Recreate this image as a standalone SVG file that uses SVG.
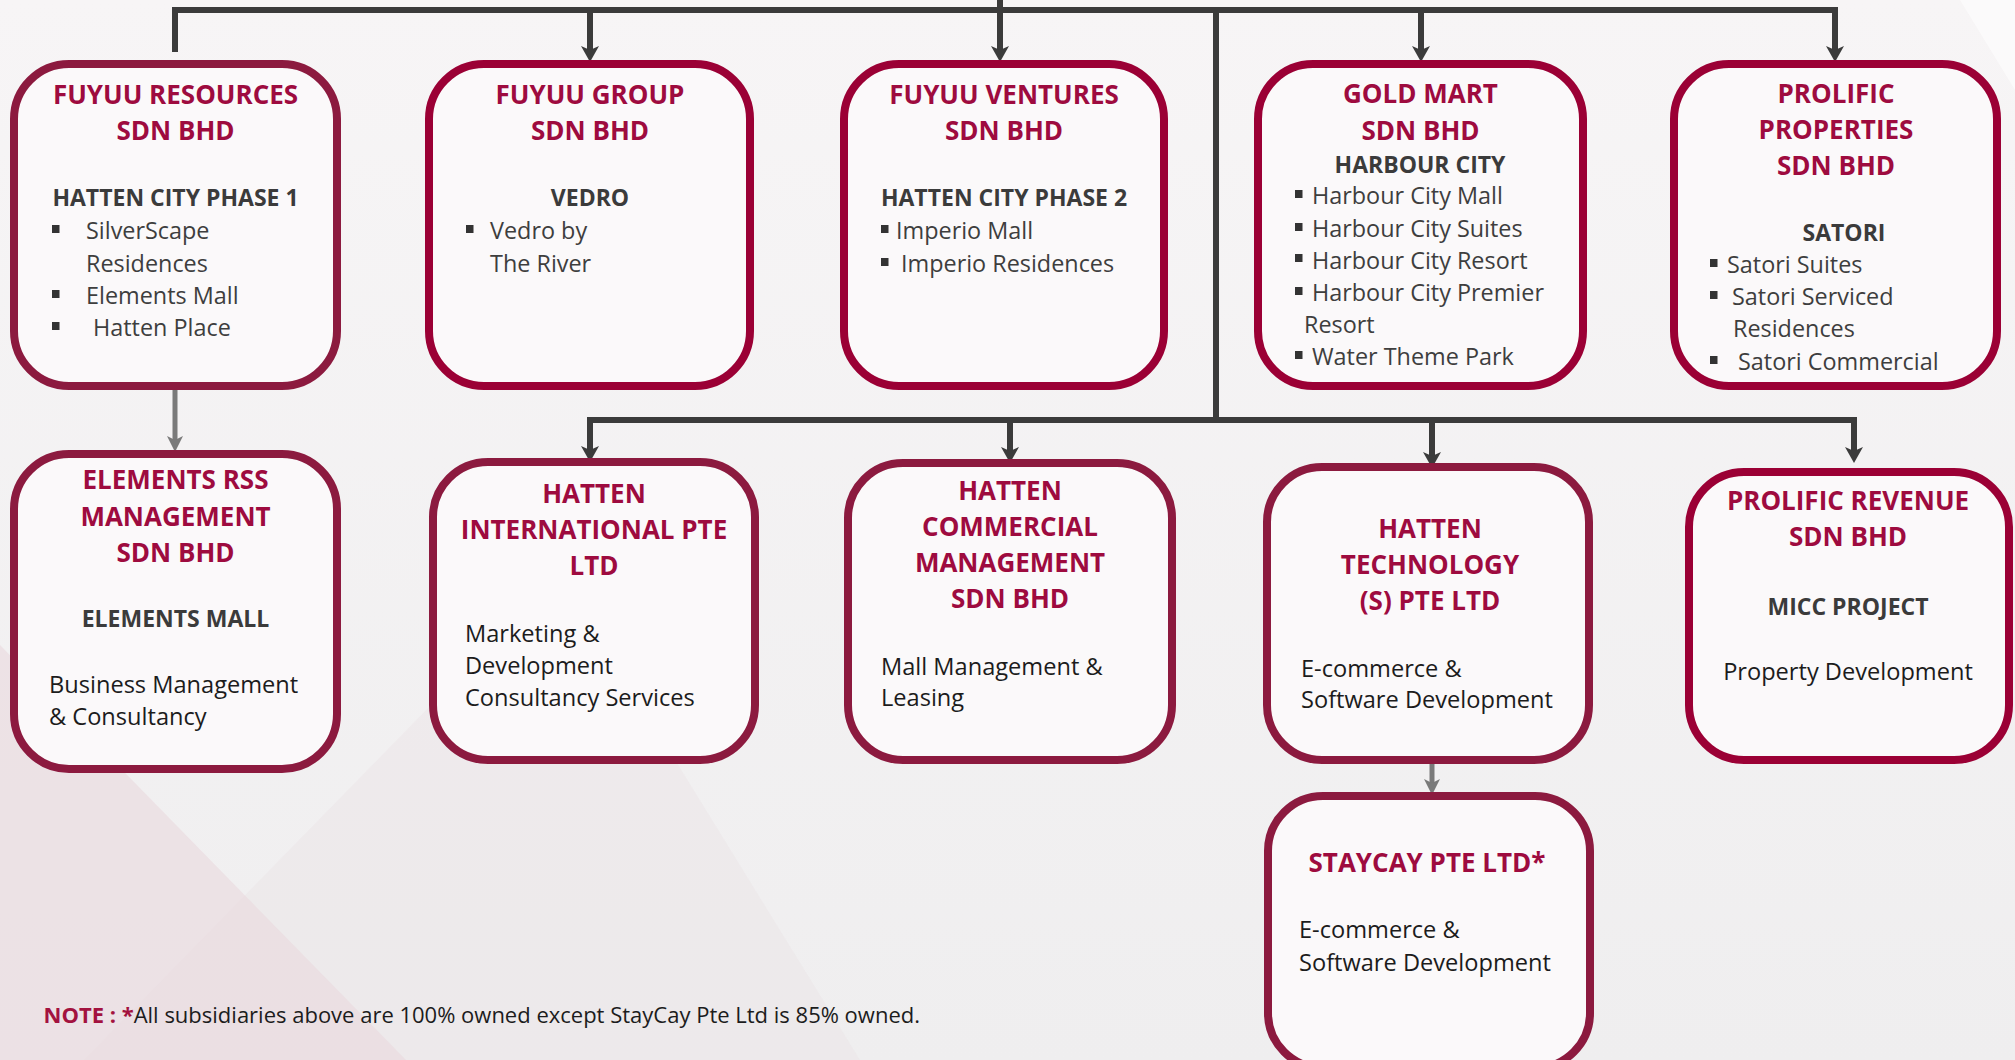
<svg xmlns="http://www.w3.org/2000/svg" width="2015" height="1060" viewBox="0 0 2015 1060">
<style>
text{font-family:"Open Sans","Noto Sans","Liberation Sans",sans-serif}
.box{fill:#fbf9fa;stroke-width:8}
.bA{stroke:#8c1a3f}
.bB{stroke:#9b0035}
.t{font-size:26px;font-weight:700;fill:#9e0b3f;text-anchor:middle}
.s{font-size:23px;font-weight:700;fill:#3b3b3b;text-anchor:middle}
.l{font-size:23.4px;fill:#3e3e3e}
.d{font-size:23.6px;fill:#1c1c1c}
.bul{fill:#333}
.cn{fill:none;stroke:#3b3b3b;stroke-width:6}
.cg{fill:none;stroke:#7a7a7a;stroke-width:5}
</style>
<defs>
<linearGradient id="bg" x1="0" y1="0" x2="0" y2="1">
<stop offset="0" stop-color="#f7f5f6"/>
<stop offset="1" stop-color="#efeeef"/>
</linearGradient>
<marker id="ad" viewBox="0 0 16 18" refX="6" refY="9" markerWidth="16" markerHeight="18" orient="auto" markerUnits="userSpaceOnUse">
<path d="M0,0 L16,9 L0,18 L4,9 z" fill="#3b3b3b"/>
</marker>
<marker id="ag" viewBox="0 0 16 16" refX="6" refY="8" markerWidth="16" markerHeight="16" orient="auto" markerUnits="userSpaceOnUse">
<path d="M0,0 L16,8 L0,16 L4,8 z" fill="#7a7a7a"/>
</marker>
</defs>
<rect width="2015" height="1060" fill="url(#bg)"/>
<polygon points="84,1060 560,573 860,1060" fill="#e8dfe2" opacity="0.3"/>
<polygon points="0,645 406,1060 0,1060" fill="#e9d9de" opacity="0.6"/>
<polygon points="1960,0 2015,0 2015,90" fill="#ffffff" opacity="0.5"/>

<g id="connectors">
<path class="cn" d="M1000,0 V52" marker-end="url(#ad)"/>
<path class="cn" d="M175,52 V10 H1835 V52" marker-end="url(#ad)"/>
<path class="cn" d="M590,10 V52" marker-end="url(#ad)"/>
<path class="cn" d="M1421,10 V52" marker-end="url(#ad)"/>
<path class="cn" d="M1216,10 V420"/>
<path class="cn" d="M590,420 H1854 V453" marker-end="url(#ad)"/>
<path class="cn" d="M590,417 V452" marker-end="url(#ad)"/>
<path class="cn" d="M1010,420 V453" marker-end="url(#ad)"/>
<path class="cn" d="M1432,420 V458" marker-end="url(#ad)"/>
<path class="cg" d="M175,390 V442" marker-end="url(#ag)"/>
<path class="cg" d="M1432,764 V785" marker-end="url(#ag)"/>
</g>

<g id="fuyuu-resources">
<rect class="box bA" x="14" y="64" width="323" height="322" rx="55"/>
<text class="t" x="175.5" y="104">FUYUU RESOURCES</text>
<text class="t" x="175.5" y="140">SDN BHD</text>
<text class="s" x="175.5" y="206">HATTEN CITY PHASE 1</text>
<rect class="bul" x="52" y="225" width="7.5" height="8"/>
<text class="l" x="86" y="239">SilverScape</text>
<text class="l" x="86" y="272">Residences</text>
<rect class="bul" x="52" y="290" width="7.5" height="8"/>
<text class="l" x="86" y="304">Elements Mall</text>
<rect class="bul" x="52" y="322" width="7.5" height="8"/>
<text class="l" x="93" y="336">Hatten Place</text>
</g>

<g id="fuyuu-group">
<rect class="box bB" x="429" y="64" width="321" height="322" rx="55"/>
<text class="t" x="590" y="104">FUYUU GROUP</text>
<text class="t" x="590" y="140">SDN BHD</text>
<text class="s" x="590" y="206">VEDRO</text>
<rect class="bul" x="466" y="225" width="7.5" height="8"/>
<text class="l" x="490" y="239">Vedro by</text>
<text class="l" x="490" y="272">The River</text>
</g>

<g id="fuyuu-ventures">
<rect class="box bB" x="844" y="64" width="320" height="322" rx="55"/>
<text class="t" x="1004" y="104">FUYUU VENTURES</text>
<text class="t" x="1004" y="140">SDN BHD</text>
<text class="s" x="1004" y="206">HATTEN CITY PHASE 2</text>
<rect class="bul" x="881" y="225" width="7.5" height="8"/>
<text class="l" x="896" y="239">Imperio Mall</text>
<rect class="bul" x="881" y="258" width="7.5" height="8"/>
<text class="l" x="901" y="272">Imperio Residences</text>
</g>

<g id="gold-mart">
<rect class="box bB" x="1258" y="64" width="325" height="322" rx="55"/>
<text class="t" x="1420.5" y="103">GOLD MART</text>
<text class="t" x="1420.5" y="140">SDN BHD</text>
<text class="s" x="1420" y="173">HARBOUR CITY</text>
<rect class="bul" x="1295" y="190" width="7.5" height="8"/>
<text class="l" x="1312" y="204">Harbour City Mall</text>
<rect class="bul" x="1295" y="223" width="7.5" height="8"/>
<text class="l" x="1312" y="237">Harbour City Suites</text>
<rect class="bul" x="1295" y="254" width="7.5" height="8"/>
<text class="l" x="1312" y="268.5">Harbour City Resort</text>
<rect class="bul" x="1295" y="287" width="7.5" height="8"/>
<text class="l" x="1312" y="301">Harbour City Premier</text>
<text class="l" x="1304" y="333">Resort</text>
<rect class="bul" x="1295" y="351" width="7.5" height="8"/>
<text class="l" x="1312" y="365">Water Theme Park</text>
</g>

<g id="prolific-properties">
<rect class="box bB" x="1674" y="64" width="323" height="322" rx="55"/>
<text class="t" x="1836" y="103">PROLIFIC</text>
<text class="t" x="1836" y="139">PROPERTIES</text>
<text class="t" x="1836" y="175">SDN BHD</text>
<text class="s" x="1844" y="241">SATORI</text>
<rect class="bul" x="1710" y="259" width="7.5" height="8"/>
<text class="l" x="1727" y="273">Satori Suites</text>
<rect class="bul" x="1710" y="291" width="7.5" height="8"/>
<text class="l" x="1732" y="305">Satori Serviced</text>
<text class="l" x="1733" y="337">Residences</text>
<rect class="bul" x="1710" y="356" width="7.5" height="8"/>
<text class="l" x="1738" y="370">Satori Commercial</text>
</g>

<g id="elements-rss">
<rect class="box bA" x="14" y="454" width="323" height="315" rx="55"/>
<text class="t" x="175.5" y="489">ELEMENTS RSS</text>
<text class="t" x="175.5" y="525.5">MANAGEMENT</text>
<text class="t" x="175.5" y="561.5">SDN BHD</text>
<text class="s" x="175.5" y="627">ELEMENTS MALL</text>
<text class="d" x="49" y="693">Business Management</text>
<text class="d" x="49" y="725">&amp; Consultancy</text>
</g>

<g id="hatten-international">
<rect class="box bA" x="433" y="462" width="322" height="298" rx="55"/>
<text class="t" x="594" y="503">HATTEN</text>
<text class="t" x="594" y="539">INTERNATIONAL PTE</text>
<text class="t" x="594" y="575">LTD</text>
<text class="d" x="465" y="642">Marketing &amp;</text>
<text class="d" x="465" y="674">Development</text>
<text class="d" x="465" y="706">Consultancy Services</text>
</g>

<g id="hatten-commercial">
<rect class="box bA" x="848" y="463" width="324" height="297" rx="55"/>
<text class="t" x="1010" y="500">HATTEN</text>
<text class="t" x="1010" y="536">COMMERCIAL</text>
<text class="t" x="1010" y="572">MANAGEMENT</text>
<text class="t" x="1010" y="608">SDN BHD</text>
<text class="d" x="881" y="675">Mall Management &amp;</text>
<text class="d" x="881" y="706">Leasing</text>
</g>

<g id="hatten-technology">
<rect class="box bA" x="1267" y="467" width="322" height="293" rx="55"/>
<text class="t" x="1430" y="538">HATTEN</text>
<text class="t" x="1430" y="574">TECHNOLOGY</text>
<text class="t" x="1430" y="610">(S) PTE LTD</text>
<text class="d" x="1301" y="677">E-commerce &amp;</text>
<text class="d" x="1301" y="708">Software Development</text>
</g>

<g id="prolific-revenue">
<rect class="box bB" x="1689" y="472" width="320" height="288" rx="55"/>
<text class="t" x="1848" y="510">PROLIFIC REVENUE</text>
<text class="t" x="1848" y="546">SDN BHD</text>
<text class="s" x="1848" y="615">MICC PROJECT</text>
<text class="d" x="1848" y="680" text-anchor="middle">Property Development</text>
</g>

<g id="staycay">
<rect class="box bA" x="1268" y="796" width="322" height="272" rx="55"/>
<text class="t" x="1427" y="872">STAYCAY PTE LTD*</text>
<text class="d" x="1299" y="938">E-commerce &amp;</text>
<text class="d" x="1299" y="971">Software Development</text>
</g>

<text x="43.5" y="1023" font-size="22" fill="#1c1c1c"><tspan font-weight="700" fill="#a3123f">NOTE : *</tspan>All subsidiaries above are 100% owned except StayCay Pte Ltd is 85% owned.</text>
</svg>
